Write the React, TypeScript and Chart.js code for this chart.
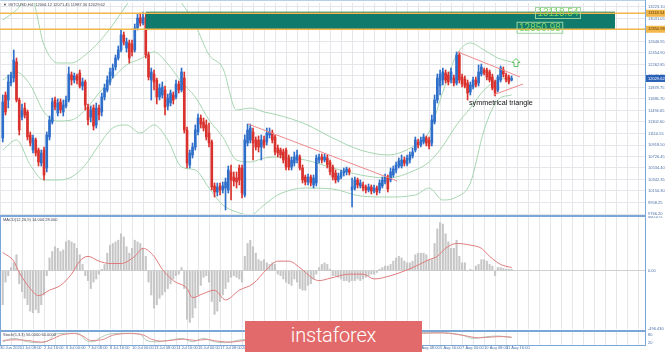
import React, { useEffect, useRef } from "react";
import { Chart, registerables } from "chart.js";

Chart.register(...registerables);

// ---------------- DATA ----------------
const symbolTitle = "#BTCUSD,H4";

const opens = [
  11035, 11754, 11670, 11954, 12037, 12305, 11670, 11386, 11536, 11470,
  11086, 10835, 11002, 10835, 10618, 10835, 10534, 11052, 11303, 11670,
  11453, 11637, 11470, 11570, 11670, 12088, 12004, 12071, 12121, 11904,
  11971, 11553, 11386, 11536, 11253, 11536, 11470, 11720, 11837, 11971,
  12071, 12221, 12371, 12505, 12756, 12538, 12622, 12605, 12505, 12872,
  13039, 12956, 13039, 12422, 12004, 12104, 12004, 11720, 11754, 11837,
  11570, 11620, 11754, 11720, 11937, 11837, 12037, 11169, 10585, 10752,
  10885, 11136, 11369, 11303, 11253, 11119, 10969, 10234, 10134, 10234,
  10167, 10200, 10167, 10468, 10384, 10367, 10534, 10534, 10084, 10952,
  11002, 11136, 11002, 11002, 10885, 11002, 10969, 11086, 11119, 11052,
  10868, 10835, 10802, 10835, 10701, 10551, 10618, 10668, 10718, 10534,
  10384, 10301, 10384, 10251, 10284, 10668, 10718, 10668, 10701, 10635,
  10551, 10451, 10334, 10384, 10451, 10468, 10501, 10167, 10200, 10334,
  10234, 10251, 10217, 10167, 10217, 10150, 10200, 10167, 10234, 10301,
  10384, 10334, 10418, 10501, 10568, 10568, 10668, 10601, 10668, 10735,
  10835, 10969, 10919, 10969, 11035, 11002, 10952, 11303, 11670, 11904,
  12004, 12121, 12088, 12004, 12037, 11954, 12422, 12054, 12021, 11954,
  11804, 11887, 12004, 11954, 12104, 12171, 12171, 12138, 12054, 11971,
  11837, 12004, 12171, 12088, 12054, 12004.12,
];
const highs = [
  11754, 11804, 12088, 12138, 12505, 12371, 11703, 11603, 11620, 11503,
  11136, 11086, 11035, 10868, 10835, 10885, 11136, 11403, 11703, 11720,
  11687, 11687, 11670, 11737, 12221, 12138, 12121, 12104, 12171, 12037,
  12004, 11603, 11570, 11587, 11620, 11587, 11787, 11937, 12071, 12204,
  12271, 12422, 12572, 12839, 12806, 12705, 12672, 12672, 12939, 13106,
  13123, 13140, 13106, 12472, 12204, 12171, 12037, 11937, 11971, 11904,
  11770, 11837, 11804, 12004, 11987, 12204, 12138, 11219, 10835, 10952,
  11253, 11436, 11420, 11369, 11336, 11286, 11002, 10284, 10284, 10284,
  10301, 10367, 10568, 10585, 10468, 10468, 10585, 10585, 11086, 11269,
  11269, 11202, 11052, 11069, 11086, 11069, 11202, 11202, 11169, 11086,
  10919, 10868, 10852, 10868, 10752, 10718, 10802, 10835, 10752, 10585,
  10418, 10434, 10418, 10418, 10752, 10768, 10768, 10768, 10752, 10668,
  10585, 10501, 10451, 10501, 10534, 10551, 10534, 10367, 10384, 10367,
  10334, 10301, 10251, 10267, 10251, 10251, 10234, 10334, 10384, 10434,
  10418, 10534, 10568, 10635, 10701, 10752, 10718, 10752, 10802, 10868,
  11052, 11019, 11052, 11102, 11069, 11052, 11420, 11754, 12104, 12171,
  12204, 12171, 12138, 12204, 12088, 12472, 12472, 12104, 12071, 12004,
  11971, 12054, 12054, 12255, 12271, 12204, 12204, 12171, 12104, 12004,
  12088, 12238, 12221, 12121, 12088, 12071.45,
];
const lows = [
  10969, 11420, 11536, 11904, 11971, 11637, 11086, 11336, 11369, 11002,
  10902, 10785, 10735, 10568, 10568, 10334, 10468, 11002, 11269, 11503,
  11403, 11453, 11403, 11536, 11637, 11921, 11954, 11937, 11870, 11837,
  11503, 11253, 11303, 11169, 11202, 11336, 11403, 11670, 11804, 11921,
  12037, 12171, 12338, 12472, 12589, 12472, 12288, 12405, 12472, 12839,
  12906, 12923, 12371, 12004, 11670, 11837, 11603, 11670, 11703, 11420,
  11503, 11570, 11603, 11687, 11787, 11804, 11119, 10534, 10534, 10701,
  10835, 11086, 11202, 11152, 11002, 10885, 10167, 10050, 10067, 10084,
  10117, 9833, 10117, 10000, 10234, 10200, 10251, 10033, 10050, 10902,
  10952, 10668, 10835, 10802, 10668, 10868, 10919, 11035, 10952, 10752,
  10718, 10701, 10618, 10501, 10501, 10501, 10568, 10618, 10501, 10284,
  10251, 10251, 10234, 10200, 10234, 10618, 10618, 10635, 10534, 10418,
  10334, 10284, 10301, 10351, 10401, 10418, 10418, 9883, 10167, 10200,
  10200, 10150, 10117, 10134, 10100, 10117, 10084, 10117, 10200, 10267,
  10134, 10301, 10384, 10451, 10534, 10534, 10568, 10568, 10618, 10701,
  10802, 10868, 10885, 10935, 10902, 10852, 10902, 11269, 11620, 11754,
  11921, 11954, 11921, 11954, 11904, 11921, 11954, 11887, 11870, 11670,
  11754, 11854, 11887, 11904, 12071, 12088, 12004, 11971, 11837, 11737,
  11804, 11971, 12054, 11971, 11937, 11987.3,
];
const closes = [
  11637, 11470, 11971, 12088, 12338, 11670, 11169, 11503, 11420, 11052,
  10952, 11035, 10785, 10635, 10785, 10418, 11086, 11336, 11637, 11553,
  11620, 11503, 11587, 11670, 12104, 12004, 12071, 12004, 11904, 11971,
  11587, 11336, 11503, 11236, 11536, 11420, 11720, 11870, 12004, 12138,
  12204, 12371, 12505, 12756, 12639, 12639, 12371, 12472, 12872, 13039,
  12956, 13056, 12422, 12054, 12138, 11971, 11720, 11870, 11887, 11553,
  11703, 11787, 11670, 11937, 11837, 12138, 11169, 10618, 10785, 10885,
  11169, 11369, 11269, 11202, 11052, 10952, 10217, 10134, 10217, 10167,
  10234, 10301, 10501, 10334, 10317, 10301, 10334, 10117, 11002, 11169,
  11202, 10952, 10885, 10885, 11002, 10919, 11119, 11136, 11002, 10802,
  10785, 10752, 10668, 10551, 10551, 10668, 10718, 10752, 10534, 10334,
  10301, 10384, 10284, 10367, 10701, 10718, 10668, 10718, 10585, 10468,
  10384, 10334, 10401, 10451, 10484, 10518, 10468, 10217, 10334, 10251,
  10284, 10200, 10167, 10217, 10150, 10200, 10134, 10284, 10334, 10384,
  10184, 10468, 10518, 10585, 10651, 10668, 10618, 10701, 10752, 10802,
  11002, 10919, 11002, 11052, 10952, 10902, 11336, 11670, 12037, 12104,
  12138, 12004, 11971, 12138, 11954, 12422, 12004, 11937, 11904, 11787,
  11921, 12004, 11921, 12138, 12221, 12121, 12054, 12004, 11870, 11787,
  12054, 12204, 12104, 12004, 11971, 12029.62,
];

// Bollinger bands, read at sampled bars
const bbIdx = [0, 5, 10, 15, 20, 25, 30, 35, 40, 45, 50, 55, 60, 65, 70, 75, 80, 85, 90, 95, 100, 110, 120, 130, 140, 150, 155, 160, 165, 170, 175, 180, 185];
const bbUpper = [13006, 13173, 13424, 12589, 12288, 12288, 12422, 12639, 12923, 13257, 13590, 13674, 13540, 13290, 12923, 12422, 12204, 11503, 11536, 11470, 11420, 11269, 11035, 10835, 10752, 10919, 11136, 11804, 12422, 12622, 12505, 12371, 12305];
const bbMiddle = [12004, 12138, 11921, 11470, 11319, 11336, 11503, 11787, 12037, 12255, 12355, 12472, 12271, 11971, 11720, 11336, 11052, 10668, 10635, 10701, 10718, 10668, 10534, 10418, 10367, 10501, 10635, 10902, 11253, 11536, 11837, 12004, 12037];
const bbLower = [10835, 11002, 10585, 10334, 10334, 10384, 10585, 10919, 11202, 11253, 11119, 11253, 11002, 10551, 10501, 10200, 9917, 9800, 9750, 9917, 10084, 10200, 10184, 10067, 10050, 10084, 10200, 10000, 10050, 10284, 11169, 11670, 11754];

// drawn objects
const trendDownX = [89.2, 143.4];
const trendDownY = [11269, 10317];
const triUpperX = [165.5, 188.1];
const triUpperY = [12472, 12054];
const triLowerX = [178.3, 189.2];
const triLowerY = [11754, 11937];
const zoneBars = [52, 222.6];
const zonePrices = [13145, 12840];
const levelPrices = [13118.54, 12850.98];
const levelLabels = ["13118.54", "12850.98"];
const levelLabelBars = [193.5, 186.8];
const arrowBar = 186.6;
const arrowPrice = 12296;
const noteText = "symmetrical triangle";
const noteBar = 169.5;
const notePrice = 11620;

// MACD
const macdHist = [
  -289, -96, -41, 28, 69, 138, -110, -179, -234, -289,
  -344, -358, -330, -358, -289, -206, -41, 110, 165, 206,
  193, 165, 179, 248, 262, 248, 234, 193, 138, 55,
  -41, -83, -151, -96, -69, -28, 14, 55, 151, 220,
  234, 248, 262, 317, 289, 206, 151, 193, 262, 248,
  234, 193, 124, -96, -206, -317, -289, -234, -206, -179,
  -151, -110, -69, -41, -28, 28, -151, -413, -440, -399,
  -317, -206, -124, -55, -41, -96, -262, -372, -344, -262,
  -206, -151, -96, -55, -41, -55, -69, -96, 124, 234,
  262, 206, 151, 96, 83, 96, 69, 55, 69, 55,
  -28, -41, -69, -96, -110, -124, -69, -96, -151, -165,
  -165, -124, -110, -69, -28, 28, 55, 69, 55, 14,
  -41, -41, -55, -69, -83, -83, -96, -83, -83, -69,
  -83, -69, -55, -41, -28, -28, -14, 14, 28, 41,
  41, 55, 83, 110, 124, 110, 83, 69, 69, 83,
  138, 151, 151, 151, 138, 96, 96, 234, 358, 413,
  400, 317, 248, 193, 193, 262, 124, 69, 69, 0,
  14, 6, 41, 55, 96, 96, 83, 55, 41, -41,
  28, 28, 20, 14, 14, 14,
];
const macdSignalIdx = [0, 4, 6, 10, 13, 17, 21, 25, 28, 31, 35, 39, 43, 48, 51, 55, 58, 62, 67, 69, 73, 77, 81, 86, 91, 96, 100, 104, 108, 113, 115, 119, 126, 131, 135, 141, 149, 155, 158, 161, 165, 170, 174, 177, 181, 185];
const macdSignal = [157, 83, -14, -151, -212, -165, -124, -28, 83, 124, 83, 63, 63, 124, 193, 124, 14, -83, -151, -229, -193, -165, -248, -165, -110, 14, 83, 83, 28, -69, -83, -63, -28, -28, -69, -41, 28, 96, 124, 193, 234, 220, 193, 124, 55, 28];

// Stochastic
const stochMainIdx = [0, 4, 9, 13, 17, 19, 26, 28, 30, 33, 35, 39, 45, 50, 52, 56, 61, 65, 69, 73, 77, 81, 86, 153, 159, 163, 167, 171, 176, 180, 185];
const stochMain = [25, 51, 25, 18, 38, 85, 90, 85, 38, 25, 51, 85, 90, 82, 38, 25, 38, 51, 25, 51, 25, 18, 38, 95, 95, 90, 77, 51, 64, 69, 56];
const stochSignalIdx = [0, 5, 9, 14, 18, 21, 26, 29, 32, 36, 40, 46, 51, 54, 58, 62, 66, 70, 74, 78, 83, 87, 153, 160, 164, 169, 173, 178, 182, 185];
const stochSignal = [35, 40, 35, 22, 45, 75, 88, 70, 35, 40, 75, 88, 78, 45, 30, 38, 45, 35, 42, 30, 22, 32, 90, 93, 85, 68, 55, 62, 65, 60];

const dateLabels = [
  "30 Jun 2020", "1 Jul 08:00", "2 Jul 16:00", "6 Jul 00:00", "7 Jul 08:00", "8 Jul 16:00",
  "10 Jul 00:00", "13 Jul 08:00", "14 Jul 16:00", "16 Jul 00:00", "17 Jul 08:00", "20 Jul 16:00",
  "22 Jul 00:00", "23 Jul 08:00", "24 Jul 16:00", "28 Jul 00:00", "29 Jul 08:00", "30 Jul 16:00",
  "3 Aug 00:00", "4 Aug 08:00", "5 Aug 16:00", "7 Aug 00:00", "10 Aug 08:00", "11 Aug 16:00",
];

// axis ranges
const X_MIN = -1;
const X_MAX = 233.5;
const PRICE_MIN = 9766.2;
const PRICE_MAX = 13289.9;
const PRICE_STEP = 192.05;
const MACD_MIN = -496.43;
const MACD_MAX = 460.075;

// ---------------- STYLE ----------------
const BLUE = "#2f6fca";
const RED = "#d9322e";
const BB = "#a6d6b0";
const TREND = "#f08a8a";
const GRID = "#e4e6ea";
const FRAME = "#7aa7d8";
const AXIS_TXT = "#4b6fa8";
const FONT = "'Liberation Sans', Arial, sans-serif";

const gridTicks: number[] = [];
for (let v = X_MIN; v <= X_MAX; v += 4) gridTicks.push(v);
const priceTicks: number[] = [];
for (let k = 0; PRICE_MIN + k * PRICE_STEP <= PRICE_MAX - 40; k++) priceTicks.push(PRICE_MIN + k * PRICE_STEP);

const labelFor = (v: number) => {
  const k = Math.round((v + 1) / 8);
  if (Math.abs(v + 1 - 8 * k) < 1e-6 && k >= 0 && k < dateLabels.length) return dateLabels[k];
  return "";
};

const makeX = (showLabels: boolean): any => ({
  type: "linear",
  min: X_MIN,
  max: X_MAX,
  offset: false,
  afterBuildTicks: (s: any) => {
    s.ticks = gridTicks.map((v) => ({ value: v }));
  },
  afterFit: (s: any) => {
    s.paddingLeft = 0;
    s.paddingRight = 0;
  },
  grid: { color: GRID, drawTicks: false, offset: false, lineWidth: 1 },
  border: { display: false },
  ticks: showLabels
    ? {
        display: true,
        autoSkip: false,
        maxRotation: 0,
        minRotation: 0,
        align: "start",
        padding: 0,
        font: { size: 4, family: FONT },
        color: AXIS_TXT,
        callback: (v: any) => labelFor(Number(v)),
      }
    : { display: false },
});

const makeY = (min: number, max: number, ticks: number[], fmt: (v: number) => string, gridColor: any): any => ({
  type: "linear",
  position: "right",
  min,
  max,
  afterBuildTicks: (s: any) => {
    s.ticks = ticks.map((v) => ({ value: v }));
  },
  afterFit: (s: any) => {
    s.width = 20;
    s.paddingTop = 0;
    s.paddingBottom = 0;
  },
  grid: { color: gridColor, drawTicks: false },
  border: { display: false },
  ticks: {
    font: { size: 4, family: FONT },
    color: AXIS_TXT,
    padding: 3,
    callback: (v: any) => fmt(Number(v)),
  },
});

const mainOverlay = {
  id: "mainOverlay",
  afterDatasetsDraw(chart: any) {
    const { ctx, chartArea } = chart;
    const x = chart.scales.x;
    const y = chart.scales.y;
    ctx.save();
    // zone
    const zx0 = x.getPixelForValue(zoneBars[0]);
    const zx1 = x.getPixelForValue(zoneBars[1]);
    const zy0 = y.getPixelForValue(zonePrices[0]);
    const zy1 = y.getPixelForValue(zonePrices[1]);
    ctx.fillStyle = "#107b6d";
    ctx.fillRect(zx0, zy0, zx1 - zx0, zy1 - zy0);
    // orange levels
    ctx.strokeStyle = "#f2b84b";
    ctx.lineWidth = 1.5;
    levelPrices.forEach((v) => {
      const py = y.getPixelForValue(v);
      ctx.beginPath();
      ctx.moveTo(chartArea.left, py);
      ctx.lineTo(chartArea.right, py);
      ctx.stroke();
    });
    // green labels
    ctx.font = `10px ${FONT}`;
    ctx.textBaseline = "middle";
    ctx.textAlign = "left";
    levelLabels.forEach((t, k) => {
      const lx = x.getPixelForValue(levelLabelBars[k]);
      const ly = y.getPixelForValue(levelPrices[k]) - (k === 0 ? 0.3 : 1.5);
      const w = ctx.measureText(t).width + 4;
      ctx.strokeStyle = "#9fd39f";
      ctx.lineWidth = 1;
      ctx.strokeRect(lx + 0.5, ly - 5.5, w, 11);
      ctx.fillStyle = "#7fd66a";
      ctx.fillText(t, lx + 2.5, ly + 0.5);
    });
    // arrow
    const ax = x.getPixelForValue(arrowBar);
    const ay = y.getPixelForValue(arrowPrice);
    ctx.beginPath();
    ctx.moveTo(ax, ay - 4);
    ctx.lineTo(ax + 4, ay);
    ctx.lineTo(ax + 2, ay);
    ctx.lineTo(ax + 2, ay + 4);
    ctx.lineTo(ax - 2, ay + 4);
    ctx.lineTo(ax - 2, ay);
    ctx.lineTo(ax - 4, ay);
    ctx.closePath();
    ctx.strokeStyle = "#62c062";
    ctx.lineWidth = 1;
    ctx.stroke();
    // note
    ctx.font = `7.2px ${FONT}`;
    ctx.fillStyle = "#111";
    ctx.fillText(noteText, x.getPixelForValue(noteBar), y.getPixelForValue(notePrice));
    ctx.restore();
  },
  afterDraw(chart: any) {
    const { ctx, chartArea } = chart;
    const y = chart.scales.y;
    ctx.save();
    const box = (val: number, fill: string, txt: string, label: string) => {
      const py = y.getPixelForValue(val);
      ctx.fillStyle = fill;
      ctx.fillRect(chartArea.right + 1, py - 3.5, 19, 7);
      ctx.fillStyle = txt;
      ctx.font = `4px ${FONT}`;
      ctx.textBaseline = "middle";
      ctx.textAlign = "left";
      ctx.fillText(label, chartArea.right + 3, py);
    };
    levelPrices.forEach((v, k) => box(v, "#f2b84b", "#5a3a00", levelLabels[k]));
    const last = closes.length - 1;
    box(closes[last], "#2a62b8", "#ffffff", closes[last].toFixed(2));
    ctx.font = `4px ${FONT}`;
    ctx.fillStyle = "#445";
    ctx.textBaseline = "middle";
    ctx.textAlign = "left";
    ctx.fillText(
      `\u25BC ${symbolTitle}  ${opens[last].toFixed(2)} ${highs[last].toFixed(2)} ${lows[last].toFixed(2)} ${closes[last].toFixed(2)}`,
      3,
      5
    );
    ctx.restore();
  },
};

const headerPlugin = (id: string, text: () => string, yPos: number) => ({
  id,
  afterDraw(chart: any) {
    const { ctx } = chart;
    ctx.save();
    ctx.font = `4px ${FONT}`;
    ctx.fillStyle = "#445";
    ctx.textBaseline = "middle";
    ctx.textAlign = "left";
    ctx.fillText(text(), 3, yPos);
    ctx.restore();
  },
});

export default function App() {
  const mainRef = useRef<HTMLCanvasElement>(null);
  const macdRef = useRef<HTMLCanvasElement>(null);
  const stochRef = useRef<HTMLCanvasElement>(null);

  useEffect(() => {
    Chart.defaults.font.family = FONT;
    const charts: Chart[] = [];
    const idx = opens.map((_, i) => i);
    const colors = opens.map((o, i) => (closes[i] >= o ? BLUE : RED));
    const pts = (xs: number[], ys: number[]) => xs.map((v, k) => ({ x: v, y: ys[k] }));
    const lineDs = (label: string, data: any[], color: string, order: number, smooth = true): any => ({
      type: "line",
      label,
      data,
      borderColor: color,
      borderWidth: 1,
      pointRadius: 0,
      tension: smooth ? 0.4 : 0,
      cubicInterpolationMode: smooth ? "monotone" : "default",
      order,
    });

    if (mainRef.current) {
      charts.push(
        new Chart(mainRef.current, {
          type: "bar",
          data: {
            datasets: [
              lineDs("BB upper", pts(bbIdx, bbUpper), BB, 10),
              lineDs("BB middle", pts(bbIdx, bbMiddle), BB, 10),
              lineDs("BB lower", pts(bbIdx, bbLower), BB, 10),
              {
                type: "bar",
                label: "wicks",
                data: idx.map((i) => ({ x: i, y: [lows[i], highs[i]] })),
                backgroundColor: colors,
                barThickness: 1,
                grouped: false,
                order: 6,
              } as any,
              {
                type: "bar",
                label: "bodies",
                data: idx.map((i) => ({ x: i, y: [opens[i], closes[i]] })),
                backgroundColor: colors,
                barThickness: 2,
                minBarLength: 1,
                grouped: false,
                order: 5,
              } as any,
              lineDs("trend", pts(trendDownX, trendDownY), TREND, 1, false),
              lineDs("tri upper", pts(triUpperX, triUpperY), TREND, 1, false),
              lineDs("tri lower", pts(triLowerX, triLowerY), TREND, 1, false),
            ],
          },
          options: {
            animation: false,
            responsive: false,
            maintainAspectRatio: false,
            layout: { padding: { top: 3, bottom: 2, left: 0, right: 0 } },
            plugins: { legend: { display: false }, tooltip: { enabled: false } },
            scales: {
              x: makeX(false),
              y: makeY(PRICE_MIN, PRICE_MAX, priceTicks, (v) => v.toFixed(2), GRID),
            },
          } as any,
          plugins: [mainOverlay],
        })
      );
    }

    if (macdRef.current) {
      const lastH = macdHist[macdHist.length - 1];
      const lastS = macdSignal[macdSignal.length - 1];
      charts.push(
        new Chart(macdRef.current, {
          type: "bar",
          data: {
            datasets: [
              {
                type: "bar",
                label: "MACD",
                data: idx.map((i) => ({ x: i, y: macdHist[i] })),
                backgroundColor: "#c6c6c6",
                barThickness: 1.4,
                grouped: false,
                order: 5,
              } as any,
              lineDs("Signal", pts(macdSignalIdx, macdSignal), "#e07a7a", 1),
            ],
          },
          options: {
            animation: false,
            responsive: false,
            maintainAspectRatio: false,
            layout: { padding: { top: 1, bottom: 1, left: 0, right: 0 } },
            plugins: { legend: { display: false }, tooltip: { enabled: false } },
            scales: {
              x: makeX(false),
              y: makeY(
                MACD_MIN,
                MACD_MAX,
                [MACD_MIN, 0, MACD_MAX],
                (v) => (v === 0 ? "0.00" : v.toFixed(3)),
                (c: any) => (c.tick && c.tick.value === 0 ? "#cfcfcf" : "rgba(0,0,0,0)")
              ),
            },
          } as any,
          plugins: [headerPlugin("macdHeader", () => `MACD(12,26,9) ${lastH.toFixed(3)} ${lastS.toFixed(3)}`, 3.5)],
        })
      );
    }

    if (stochRef.current) {
      const lastM = stochMain[stochMain.length - 1];
      const lastS = stochSignal[stochSignal.length - 1];
      charts.push(
        new Chart(stochRef.current, {
          type: "line",
          data: {
            datasets: [
              lineDs("Main", pts(stochMainIdx, stochMain), "#b2c9b9", 2),
              lineDs("Signal", pts(stochSignalIdx, stochSignal), "#e08a8a", 1),
            ],
          },
          options: {
            animation: false,
            responsive: false,
            maintainAspectRatio: false,
            layout: { padding: { top: 2, bottom: 2.2, left: 0, right: 0 } },
            plugins: { legend: { display: false }, tooltip: { enabled: false } },
            scales: {
              x: makeX(true),
              y: makeY(0, 100, [20, 80], (v) => String(v), "rgba(0,0,0,0)"),
            },
          } as any,
          plugins: [headerPlugin("stochHeader", () => `Stoch(5,3,3) ${lastM.toFixed(4)} ${lastS.toFixed(4)}`, 4.5)],
        })
      );
    }

    return () => charts.forEach((c) => c.destroy());
  }, []);

  const line = (l: number, t: number, w: number, h: number, c = FRAME) => (
    <div style={{ position: "absolute", left: l, top: t, width: w, height: h, background: c }} />
  );

  return (
    <div style={{ position: "fixed", left: 0, top: 0, width: 665, height: 352, background: "#fff", overflow: "hidden" }}>
      <canvas ref={mainRef} width={665} height={216} style={{ position: "absolute", left: 0, top: 0, width: 665, height: 216 }} />
      <canvas ref={macdRef} width={665} height={114} style={{ position: "absolute", left: 0, top: 216, width: 665, height: 114 }} />
      <canvas ref={stochRef} width={665} height={22} style={{ position: "absolute", left: 0, top: 330, width: 665, height: 22 }} />
      {line(0, 0, 646, 1, "#b8cfe8")}
      {line(0, 214.5, 646, 2)}
      {line(0, 329.5, 646, 2)}
      {line(0, 345, 646, 1)}
      {line(0, 215, 1, 131)}
      {line(645, 0, 1, 346)}
      <div
        style={{
          position: "absolute",
          left: 245,
          top: 321,
          width: 177,
          height: 31,
          background: "#e36a6a",
          color: "#fff",
          fontFamily: "Roboto, 'Open Sans', sans-serif",
          fontWeight: 300,
          fontSize: 20,
          lineHeight: "28px",
          textAlign: "center",
          letterSpacing: "-0.2px",
        }}
      >
        instaforex
      </div>
    </div>
  );
}
